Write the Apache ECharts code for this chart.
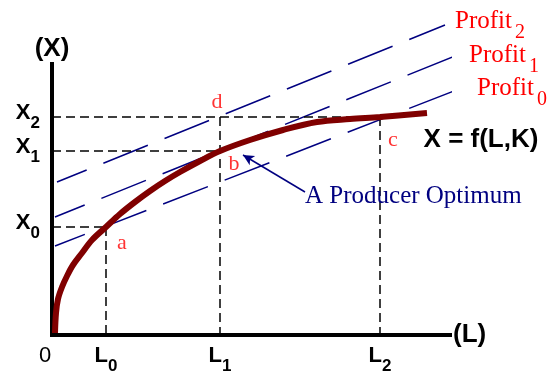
<!DOCTYPE html>
<html>
<head>
<meta charset="utf-8">
<script src="https://cdn.jsdelivr.net/npm/echarts@6/dist/echarts.min.js"></script>
<style>
html, body { margin: 0; padding: 0; background: #fff; }
#main { width: 547px; height: 375px; }
</style>
</head>
<body>
<div id="main"></div>
<script>
// ticks on both axes
var lTicks = [0, 54, 168, 328];
var lNames = ['0', 'L0', 'L1', 'L2'];
var xTicks = [108, 184, 218];
var xNames = ['X0', 'X1', 'X2'];

// production function X = f(L,K)
var curveL = [3, 4, 6, 10, 15, 21, 30, 40, 54, 68, 83, 98, 113, 128, 148, 168, 198, 231, 265, 298, 328, 375];
var curveX = [2, 22, 36, 48, 59, 70, 82, 95, 108, 121, 133, 144, 154, 163, 174, 184, 195, 205, 213, 216, 218, 222];

// iso-profit lines (start, end)
var profitNames = ['0', '1', '2'];
var profitL = [[3, 420], [3, 408], [5, 393]];
var profitX = [[89, 251], [118, 281], [153, 310]];

// marked points
var pointNames = ['a', 'b', 'c', 'd'];
var pointL = [54, 168, 328, 168];
var pointX = [108, 184, 218, 218];

// arrow to the optimum (tail, head)
var arrowL = [253, 191];
var arrowX = [143, 180];

var chart = echarts.init(document.getElementById('main'));

var sans  = 'Liberation Sans';
var serif = 'Liberation Serif';

function tickLabel(name) {
    if (name.length == 1) return '{z|' + name + '}';
    return '{m|' + name.charAt(0) + '}{s|' + name.slice(1) + '}';
}

var tickRich = {
    m: { fontFamily: sans, fontSize: 22, fontWeight: 'bold', color: '#000', verticalAlign: 'top' },
    s: { fontFamily: sans, fontSize: 17, fontWeight: 'bold', color: '#000', verticalAlign: 'top', padding: [13, 0, 0, 0] },
    z: { fontFamily: sans, fontSize: 22, color: '#000', verticalAlign: 'top', padding: [0, 14, 0, 0] }
};

function dashed(points) {
    return {
        type: 'line',
        data: points,
        symbol: 'none',
        clip: false,
        silent: true,
        z: 3,
        lineStyle: { color: '#000', width: 1.5, type: [9, 5] }
    };
}

var series = [];

// guide lines to the axes
[0, 1, 2].forEach(function (i) {
    series.push(dashed([[0, pointX[i]], [pointL[i], pointX[i]]]));
});
[0, 3, 2].forEach(function (i) {
    series.push(dashed([[pointL[i], pointX[i]], [pointL[i], 0]]));
});

// iso-profit lines
var profitOffset = [[5, 9], [9, 6], [10, 1]];
for (var i = 0; i < profitL.length; i++) {
    series.push({
        type: 'line',
        clip: false,
        silent: true,
        symbol: 'circle',
        symbolSize: 0,
        z: 2,
        lineStyle: { color: '#000080', width: 1.5, type: [48, 18], dashOffset: 16 },
        itemStyle: { color: '#000080' },
        data: [
            [profitL[i][0], profitX[i][0]],
            {
                value: [profitL[i][1], profitX[i][1]],
                label: {
                    show: true,
                    position: 'right',
                    distance: 0,
                    offset: profitOffset[i],
                    formatter: '{m|Profit}{s|' + profitNames[i] + '}',
                    rich: {
                        m: { fontFamily: serif, fontSize: 25, color: '#ff0000', verticalAlign: 'top' },
                        s: { fontFamily: serif, fontSize: 20, color: '#ff0000', verticalAlign: 'top', padding: [14, 0, 0, 3] }
                    }
                }
            }
        ]
    });
}

// production curve
var curveData = [];
for (var i = 0; i < curveL.length; i++) {
    var d = { value: [curveL[i], curveX[i]] };
    if (i == curveL.length - 1) {
        d.label = {
            show: true,
            position: 'inside',
            offset: [54, 27],
            formatter: 'X = f(L,K)',
            fontFamily: sans,
            fontWeight: 'bold',
            fontSize: 26,
            color: '#000'
        };
    }
    curveData.push(d);
}
series.push({
    type: 'line',
    smooth: 0.35,
    clip: false,
    silent: true,
    symbol: 'circle',
    symbolSize: 0,
    z: 4,
    lineStyle: { color: '#800000', width: 6 },
    itemStyle: { color: '#800000' },
    data: curveData
});

// point letters
var pointOffset = [[16, 16], [14, 13], [13, 23], [-3, -15]];
var pointData = [];
for (var i = 0; i < pointNames.length; i++) {
    pointData.push({
        value: [pointL[i], pointX[i]],
        label: {
            show: true,
            position: 'inside',
            offset: pointOffset[i],
            formatter: pointNames[i],
            fontFamily: serif,
            fontSize: 22,
            color: '#ff0000'
        }
    });
}
series.push({
    type: 'scatter',
    clip: false,
    silent: true,
    symbolSize: 0,
    z: 5,
    data: pointData
});

// arrow and its caption
series.push({
    type: 'line',
    clip: false,
    silent: true,
    symbol: 'circle',
    symbolSize: 0,
    z: 5,
    lineStyle: { color: '#000080', width: 1.5 },
    itemStyle: { color: '#000080' },
    data: [
        {
            value: [arrowL[0], arrowX[0]],
            label: {
                show: true,
                position: 'right',
                distance: 0,
                offset: [0, 4],
                formatter: 'A Producer Optimum',
                fontFamily: serif,
                fontSize: 25,
                color: '#000080'
            }
        },
        {
            value: [arrowL[1], arrowX[1]],
            symbol: 'arrow',
            symbolSize: [8, 11],
            symbolRotate: 59
        }
    ]
});

option = {
    animation: false,
    grid: {
        left: 52,
        top: 64,
        width: 398,
        height: 271,
        outerBoundsMode: 'none'
    },
    xAxis: {
        type: 'value',
        min: 0,
        max: 398,
        name: '(L)',
        nameLocation: 'end',
        nameGap: 3,
        nameMoveOverlap: false,
        nameTextStyle: { fontFamily: sans, fontSize: 26, fontWeight: 'bold', color: '#000', padding: [6, 0, 0, 0] },
        axisLine: { show: true, onZero: false, lineStyle: { color: '#000', width: 4, cap: 'square' } },
        axisTick: { show: false },
        splitLine: { show: false },
        axisLabel: {
            customValues: lTicks,
            margin: 10,
            formatter: function (v) {
                return tickLabel(lNames[lTicks.indexOf(v)]);
            },
            rich: tickRich
        }
    },
    yAxis: {
        type: 'value',
        min: 0,
        max: 271,
        name: '(X)',
        nameLocation: 'end',
        nameGap: 2,
        nameMoveOverlap: false,
        nameTextStyle: { fontFamily: sans, fontSize: 26, fontWeight: 'bold', color: '#000' },
        axisLine: { show: true, onZero: false, lineStyle: { color: '#000', width: 4, cap: 'square' } },
        axisTick: { show: false },
        splitLine: { show: false },
        axisLabel: {
            customValues: xTicks,
            margin: 12,
            formatter: function (v) {
                return tickLabel(xNames[xTicks.indexOf(v)]);
            },
            rich: tickRich
        }
    },
    series: series
};

chart.setOption(option, true);
</script>
</body>
</html>
